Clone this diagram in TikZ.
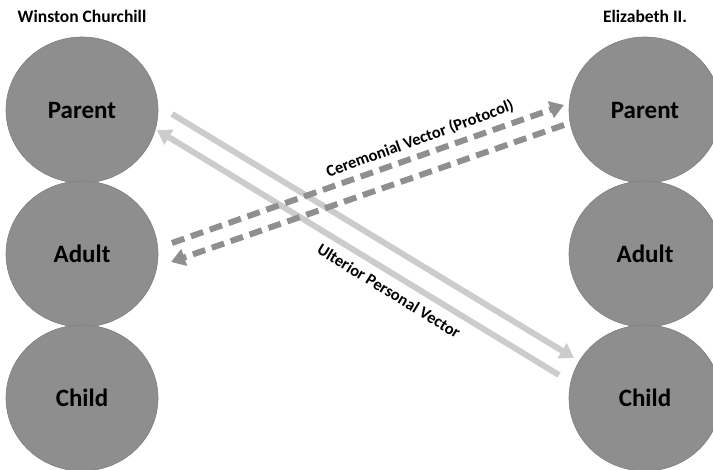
\documentclass[tikz,border=0pt]{standalone}
\usepackage{fontspec}
\setmainfont{Carlito}
\usetikzlibrary{shapes.geometric,arrows.meta}
\definecolor{egofill}{HTML}{8E8E8E}
\definecolor{egoline}{HTML}{7F7F7F}
\definecolor{ulterior}{HTML}{CCCCCC}
\definecolor{ceremony}{HTML}{8F8F8F}
\tikzset{
  ego/.style={ellipse, fill=egofill, draw=egoline, line width=0.6pt, minimum width=152pt, minimum height=146pt, inner sep=0pt, font=\bfseries\fontsize{25}{25}\selectfont},
  who/.style={font=\bfseries\fontsize{17.5}{17.5}\selectfont, anchor=base},
  ulteriorvec/.style={draw=ulterior, line width=6pt, -{Triangle[width=17pt,length=14pt]}},
  ceremonyvec/.style={draw=ceremony, line width=6pt, dash pattern=on 13pt off 7pt, -{Triangle[width=17pt,length=14pt]}},
  vlabel/.style={font=\bfseries\fontsize{16.5}{16.5}\selectfont}
}
\begin{document}
\begin{tikzpicture}[x=1pt,y=-1pt]
\useasboundingbox (0,0) rectangle (713,470);
\node[who] (wc) at (82,23) {Winston Churchill};
\node[who] (e2) at (645,23) {Elizabeth II.};
\node[ego] (lp) at (82,110) {Parent};
\node[ego] (la) at (82,254) {Adult};
\node[ego] (lc) at (82,398) {Child};
\node[ego] (rp) at (645,110) {Parent};
\node[ego] (ra) at (645,254) {Adult};
\node[ego] (rc) at (645,398) {Child};
\coordinate (u1s) at (172,114);
\coordinate (u1e) at (574,358);
\coordinate (u2s) at (559,375);
\coordinate (u2e) at (157,130);
\coordinate (c1s) at (172,243);
\coordinate (c1e) at (564,105);
\coordinate (c2s) at (564,125);
\coordinate (c2e) at (171,262);
\draw[ulteriorvec] (u1s) -- (u1e);
\draw[ulteriorvec] (u2s) -- (u2e);
\draw[ceremonyvec] (c1s) -- (c1e);
\draw[ceremonyvec] (c2s) -- (c2e);
\node[vlabel, rotate=20] (cl) at (420,139) {Ceremonial Vector (Protocol)};
\node[vlabel, rotate=-31.5] (ul) at (389,291) {Ulterior Personal Vector};
\end{tikzpicture}
\end{document}
